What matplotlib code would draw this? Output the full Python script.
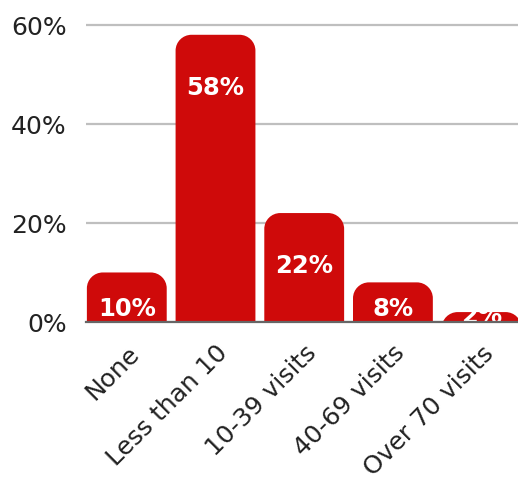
import matplotlib
matplotlib.use("Agg")
import matplotlib.pyplot as plt
from matplotlib.path import Path
from matplotlib.patches import PathPatch

categories = ["None", "Less than 10", "10-39 visits", "40-69 visits", "Over 70 visits"]
values = [10, 58, 22, 8, 2]
yticks = [0, 20, 40, 60]

bar_color = "#cf0a0a"


def top_rounded(x0, x1, h, rx, ry):
    # bar outline with rounded top corners, bottom sits below 0 (clipped)
    k = 0.5523
    verts = [(x0, -5), (x0, h - ry),
             (x0, h - ry * (1 - k)), (x0 + rx * (1 - k), h), (x0 + rx, h),
             (x1 - rx, h),
             (x1 - rx * (1 - k), h), (x1, h - ry * (1 - k)), (x1, h - ry),
             (x1, -5), (x0, -5)]
    codes = [Path.MOVETO, Path.LINETO,
             Path.CURVE4, Path.CURVE4, Path.CURVE4,
             Path.LINETO,
             Path.CURVE4, Path.CURVE4, Path.CURVE4,
             Path.LINETO, Path.CLOSEPOLY]
    return Path(verts, codes)


fig = plt.figure(figsize=(5.18, 4.81), dpi=100)
ax = fig.add_axes([0.166, 0.3285, 0.834, 0.628])

x = list(range(len(categories)))
bars = ax.bar(x, values, width=0.9, color=bar_color)
ax.set_xlim(-0.46, 4.41)
ax.set_ylim(0, 61)

for b in bars:
    b.set_visible(False)
    h = b.get_height()
    p = top_rounded(b.get_x(), b.get_x() + b.get_width(), h, 0.18, 3.2)
    ax.add_patch(PathPatch(p, facecolor=bar_color, edgecolor="none"))

for xi, v in zip(x, values):
    ly = max(v - 10.5, min(2.8, v * 0.7))
    ax.text(xi, ly, f"{v}%", ha="center", va="center", color="white",
            fontsize=17.5, fontweight="bold", clip_on=True)

ax.set_yticks(yticks)
ax.set_yticklabels([f"{t}%" for t in yticks], fontsize=18, color="#222222")
ax.set_xticks(x)
ax.set_xticklabels(categories, rotation=45, ha="right", rotation_mode="anchor",
                   fontsize=18, color="#222222")
ax.tick_params(axis="y", length=0, pad=14)
ax.tick_params(axis="x", length=0, pad=13)

ax.grid(axis="y", color="#bfbfbf", linewidth=1.6)
ax.set_axisbelow(True)
for s in ["top", "right", "left"]:
    ax.spines[s].set_visible(False)
ax.spines["bottom"].set_color("#666666")
ax.spines["bottom"].set_linewidth(1.6)
ax.spines["bottom"].set_zorder(5)

fig.savefig("out.png", dpi=100)
